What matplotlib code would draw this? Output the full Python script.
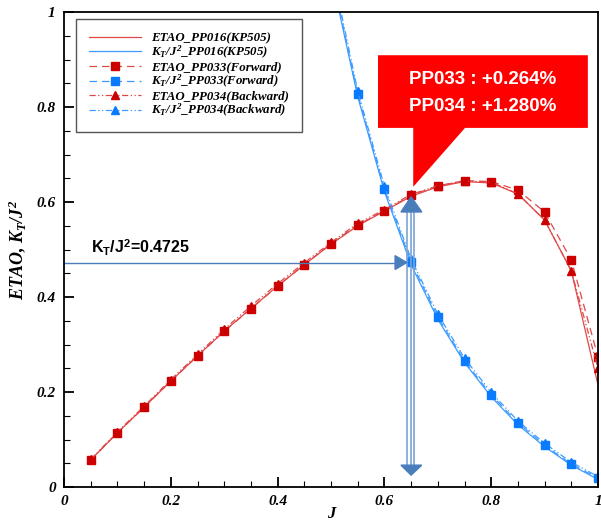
import numpy as np
import matplotlib.pyplot as plt
from matplotlib.patches import Polygon
from matplotlib.ticker import MultipleLocator, FuncFormatter

plt.rcParams['mathtext.fontset'] = 'custom'
plt.rcParams['mathtext.rm'] = 'Liberation Serif:italic:bold'
plt.rcParams['mathtext.it'] = 'Liberation Serif:italic:bold'
plt.rcParams['mathtext.bf'] = 'Liberation Sans:bold'

# advance coefficient
J = [0.05, 0.1, 0.15, 0.2, 0.25, 0.3, 0.35, 0.4, 0.45, 0.5,
     0.55, 0.6, 0.65, 0.7, 0.75, 0.8, 0.85, 0.9, 0.95, 1.0]

# efficiency
etao_kp505 = [0.057, 0.114, 0.168, 0.223, 0.276, 0.328, 0.376, 0.423, 0.468, 0.511,
              0.550, 0.581, 0.612, 0.632, 0.643, 0.640, 0.617, 0.562, 0.455, 0.215]
etao_pp033 = [0.057, 0.114, 0.168, 0.223, 0.276, 0.328, 0.375, 0.423, 0.468, 0.512,
              0.552, 0.581, 0.614, 0.634, 0.645, 0.643, 0.625, 0.579, 0.478, 0.274]
etao_pp034 = [0.058, 0.116, 0.170, 0.226, 0.279, 0.332, 0.381, 0.428, 0.472, 0.515,
              0.555, 0.584, 0.616, 0.634, 0.644, 0.642, 0.617, 0.562, 0.455, 0.250]

# KT/J^2 (only the part below 1 is visible)
Jk = [0.5, 0.55, 0.6, 0.65, 0.7, 0.75, 0.8, 0.85, 0.9, 0.95, 1.0]
kt_kp505 = [1.08, 0.822, 0.622, 0.468, 0.353, 0.262, 0.190, 0.131, 0.085, 0.046, 0.016]
kt_pp033 = [1.09, 0.827, 0.627, 0.474, 0.358, 0.265, 0.194, 0.135, 0.088, 0.048, 0.019]
kt_pp034 = [1.10, 0.834, 0.633, 0.480, 0.364, 0.271, 0.199, 0.139, 0.092, 0.052, 0.022]

RED_L = '#e04848'
RED_M = '#cc0000'
BLUE_L = '#3d9bff'
BLUE_M = '#0a7bff'
ARROW = '#4a7ebb'

fig = plt.figure(figsize=(6.01, 5.26), dpi=100)
ax = fig.add_axes([64 / 601, 39 / 526, 534 / 601, 475 / 526])

ax.plot(J, etao_kp505, '-', color=RED_L, lw=0.9, label='ETAO_PP016(KP505)')
ax.plot(Jk, kt_kp505, '-', color=BLUE_L, lw=0.9, label=r'$K_T/J^2$_PP016(KP505)')
ax.plot(J, etao_pp033, color=RED_L, lw=0.9, dashes=(6, 4), marker='s', ms=6,
        mfc=RED_M, mec=RED_M, label='ETAO_PP033(Forward)')
ax.plot(Jk, kt_pp033, color=BLUE_L, lw=0.9, dashes=(6, 4), marker='s', ms=6,
        mfc=BLUE_M, mec=BLUE_M, label=r'$K_T/J^2$_PP033(Forward)')
ax.plot(J, etao_pp034, color=RED_L, lw=0.9, dashes=(5, 2, 1, 2, 1, 2), marker='^', ms=6,
        mfc=RED_M, mec=RED_M, label='ETAO_PP034(Backward)')
ax.plot(Jk, kt_pp034, color=BLUE_L, lw=0.9, dashes=(5, 2, 1, 2, 1, 2), marker='^', ms=6,
        mfc=BLUE_M, mec=BLUE_M, label=r'$K_T/J^2$_PP034(Backward)')

ax.set_xlim(0, 1)
ax.set_ylim(0, 1)

# horizontal arrow at KT/J^2 = 0.4725
ax.plot([0, 0.620], [0.4725, 0.4725], color=ARROW, lw=1.0)
ax.add_patch(Polygon([[0.620, 0.487], [0.642, 0.4725], [0.620, 0.458]],
                     closed=True, color=ARROW, zorder=5))
ax.text(0.05, 0.503, r'K$_\mathbf{T}$/J$^\mathbf{2}$=0.4725', fontsize=11.5,
        fontfamily='Liberation Sans', fontweight='bold', color='black', va='center')

# vertical double arrow (three lines)
for xv in [0.643, 0.650, 0.656]:
    ax.plot([xv, xv], [0.046, 0.579], color='#7aa3d6', lw=1.2)
ax.add_patch(Polygon([[0.631, 0.579], [0.650, 0.611], [0.670, 0.579]],
                     closed=True, color=ARROW, zorder=5))
ax.add_patch(Polygon([[0.631, 0.046], [0.650, 0.025], [0.670, 0.046]],
                     closed=True, color=ARROW, zorder=5))

# red callout
ax.add_patch(Polygon([[0.588, 0.909], [0.981, 0.909], [0.981, 0.756], [0.751, 0.756],
                      [0.654, 0.632], [0.654, 0.756], [0.588, 0.756]],
                     closed=True, facecolor='#ff0000', edgecolor='none', zorder=6))
ax.text(0.7845, 0.858, 'PP033 : +0.264%', color='white', fontsize=13.5,
        fontfamily='Liberation Sans', fontweight='bold', ha='center', va='center', zorder=7)
ax.text(0.7845, 0.802, 'PP034 : +1.280%', color='white', fontsize=13.5,
        fontfamily='Liberation Sans', fontweight='bold', ha='center', va='center', zorder=7)

# ticks
ax.xaxis.set_major_locator(MultipleLocator(0.2))
ax.yaxis.set_major_locator(MultipleLocator(0.2))
ax.xaxis.set_minor_locator(MultipleLocator(0.05))
ax.yaxis.set_minor_locator(MultipleLocator(0.05))
fmt = FuncFormatter(lambda v, p: '%g' % round(v, 2))
ax.xaxis.set_major_formatter(fmt)
ax.yaxis.set_major_formatter(fmt)
ax.tick_params(which='both', direction='in', top=False, right=False)
ax.tick_params(which='major', length=7, width=1.3, pad=6)
ax.tick_params(which='minor', length=4, width=0.8)
for lab in ax.get_xticklabels() + ax.get_yticklabels():
    lab.set_fontfamily('Liberation Serif')
    lab.set_fontstyle('italic')
    lab.set_fontweight('bold')
    lab.set_fontsize(11)
for sp in ax.spines.values():
    sp.set_linewidth(1.3)

ax.set_xlabel('J', fontfamily='Liberation Serif', fontstyle='italic',
              fontweight='bold', fontsize=12)
ax.xaxis.set_label_coords(0.5, -0.04)
ax.set_ylabel(r'ETAO, $K_T/J^2$', fontfamily='Liberation Serif', fontstyle='italic',
              fontweight='bold', fontsize=13, labelpad=6)

leg = ax.legend(loc='upper left', bbox_to_anchor=(0.0225, 0.985), borderaxespad=0,
                prop={'family': 'Liberation Serif', 'style': 'italic', 'weight': 'bold', 'size': 9.3},
                handlelength=4.0, labelspacing=0.0, fancybox=False, framealpha=1,
                edgecolor='#555555', borderpad=1.0)
leg.get_frame().set_linewidth(1.0)

fig.savefig('out.png', dpi=100)
